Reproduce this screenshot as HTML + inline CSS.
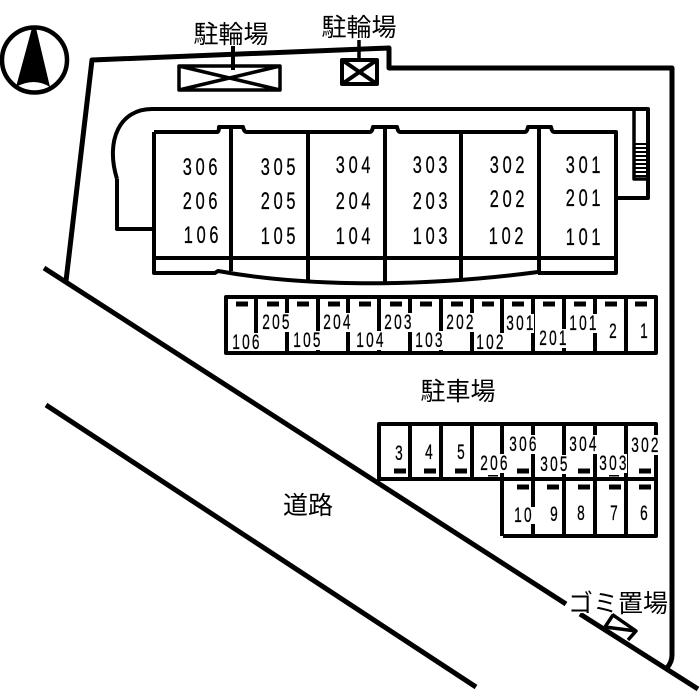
<!DOCTYPE html>
<html lang="ja">
<head>
<meta charset="utf-8">
<title>配置図</title>
<style>
html,body{margin:0;padding:0;background:#fff;width:700px;height:700px;overflow:hidden}
svg{display:block}
text{fill:#000;text-anchor:middle}
.b{font-family:"Liberation Sans",sans-serif;font-size:24px;letter-spacing:5.500px;stroke:#000;stroke-width:.3px}
.p{font-family:"Liberation Sans",sans-serif;font-size:21px;letter-spacing:3.500px;stroke:#000;stroke-width:.3px}
.j{font-family:"Liberation Sans","Noto Sans CJK JP",sans-serif;font-size:25px}
.w{stroke:#fff;stroke-width:3px;paint-order:stroke;stroke-linejoin:round}
</style>
</head>
<body>
<svg width="700" height="700" viewBox="0 0 700 700" xmlns="http://www.w3.org/2000/svg">
<rect width="700" height="700" fill="#fff"/>
<g fill="none" stroke="#000" stroke-linejoin="round">
  <circle cx="34.500" cy="60" r="32.500" stroke-width="4.500"/>
  <path d="M66 281 L92 60 L389 48 L389 68 L672 68 L672 655 Q672 662 667 668" stroke-width="5"/>
  <path d="M44 268 L566 604 M580 614 L698 689" stroke-width="5"/>
  <path d="M46 405 L476 687" stroke-width="5"/>
  <path d="M179 66 H280 V90 H179 Z M179 66 L280 90 M280 66 L179 90" stroke-width="3.500"/>
  <path d="M233 46 V70" stroke-width="4"/>
  <path d="M342 60 H377 V84 H342 Z M342 60 L377 84 M377 60 L342 84" stroke-width="4"/>
  <path d="M359 40 V62" stroke-width="3.500"/>
  <path d="M117 179 C105 140 120 109 152 109 L648 109 V198 H617" stroke-width="4"/>
  <path d="M117 179 V229 H154" stroke-width="4"/>
  <path d="M634 109 V179 H648" stroke-width="3.500"/>
  <path d="M154 132 H217 Q219 132 219 127 H243 Q244 132 247 132 H370 Q372 132 373 127 H397 Q398 132 400 132 H525 Q527 132 528 127 H551 Q552 132 554 132 H616 V273 H538" stroke-width="4"/>
  <path d="M154 132 V273 H215 L218 271 C290 284 400 290 538 272" stroke-width="4"/>
  <path d="M154 258 H616" stroke-width="4"/>
  <path d="M231 127 V271 M308 132 V281 M385 127 V284 M461 132 V279 M539 127 V272" stroke-width="4"/>
  <path d="M256 297 V353 M287 297 V353 M318 297 V353 M348 297 V353 M379 297 V353 M410 297 V353 M441 297 V353 M472 297 V353 M502 297 V353 M533 297 V353 M564 297 V353 M595 297 V353 M626 297 V353" stroke-width="4"/>
  <path d="M410 424 V479 M441 424 V479 M472 424 V479 M502 424 V536 M533 424 V536 M564 424 V536 M595 424 V536 M626 424 V536" stroke-width="4"/>
  <path d="M605 627 L613 615 L636 631 L628 640 M605 627 L636 631" stroke-width="3.500"/>
  <rect x="226" y="297" width="430" height="56" stroke-width="4"/>
  <path d="M379 424 H656 V479 H379 Z" stroke-width="4"/>
  <path d="M503 536 H656 V479" stroke-width="4"/>
</g>
<g fill="#fff">
  <rect x="232" y="333" width="28" height="18"/>
  <rect x="262" y="313" width="28" height="19"/>
  <rect x="293" y="331" width="28" height="19"/>
  <rect x="323" y="313" width="28" height="19"/>
  <rect x="356" y="331" width="28" height="19"/>
  <rect x="384" y="313" width="28" height="19"/>
  <rect x="415" y="331" width="28" height="19"/>
  <rect x="446" y="313" width="28" height="19"/>
  <rect x="476" y="333" width="28" height="18"/>
  <rect x="506" y="314" width="28" height="19"/>
  <rect x="539" y="329" width="28" height="19"/>
  <rect x="569" y="314" width="28" height="19"/>
  <rect x="480" y="454" width="28" height="19"/>
  <rect x="509" y="435" width="28" height="19"/>
  <rect x="540" y="455" width="28" height="19"/>
  <rect x="569" y="435" width="28" height="19"/>
  <rect x="599" y="454" width="28" height="19"/>
  <rect x="631" y="435" width="29" height="20"/>
  <rect x="511" y="507" width="24" height="17"/>
</g>
<path d="M32 28 H36 L50 87 Q34 77 16 87 Z" fill="#000"/>
<g fill="#000">
  <rect x="634" y="143" width="14" height="2"/><rect x="634" y="147" width="14" height="2"/><rect x="634" y="151" width="14" height="2"/><rect x="634" y="155" width="14" height="2"/><rect x="634" y="159" width="14" height="2"/><rect x="634" y="163" width="14" height="2"/><rect x="634" y="167" width="14" height="2"/><rect x="634" y="171" width="14" height="2"/><rect x="634" y="175" width="14" height="2"/>
  <rect x="236" y="301.500" width="12" height="5"/><rect x="267" y="301.500" width="12" height="5"/><rect x="297" y="301.500" width="12" height="5"/><rect x="328" y="301.500" width="12" height="5"/><rect x="359" y="301.500" width="12" height="5"/><rect x="390" y="301.500" width="12" height="5"/><rect x="420" y="301.500" width="12" height="5"/><rect x="451" y="301.500" width="12" height="5"/><rect x="482" y="301.500" width="12" height="5"/><rect x="512" y="301.500" width="12" height="5"/><rect x="543" y="301.500" width="12" height="5"/><rect x="574" y="301.500" width="12" height="5"/><rect x="605" y="301.500" width="12" height="5"/><rect x="635" y="301.500" width="12" height="5"/>
  <rect x="394" y="468.500" width="12" height="5"/><rect x="424" y="468.500" width="12" height="5"/><rect x="455" y="468.500" width="12" height="5"/><rect x="517" y="468.500" width="12" height="5"/><rect x="578" y="468.500" width="12" height="5"/><rect x="639" y="468.500" width="12" height="5"/>
  <rect x="517" y="484.500" width="12" height="5"/><rect x="547" y="484.500" width="12" height="5"/><rect x="578" y="484.500" width="12" height="5"/><rect x="609" y="484.500" width="12" height="5"/><rect x="639" y="484.500" width="12" height="5"/>
</g>
<g class="b">
<text transform="translate(202 175) scale(.68 1)">306</text>
<text transform="translate(202 209) scale(.68 1)">206</text>
<text transform="translate(203 243) scale(.68 1)">106</text>
<text transform="translate(280 175) scale(.68 1)">305</text>
<text transform="translate(280 209) scale(.68 1)">205</text>
<text transform="translate(280 244) scale(.68 1)">105</text>
<text transform="translate(355 173) scale(.68 1)">304</text>
<text transform="translate(355 209) scale(.68 1)">204</text>
<text transform="translate(355 244) scale(.68 1)">104</text>
<text transform="translate(432 173) scale(.68 1)">303</text>
<text transform="translate(432 209) scale(.68 1)">203</text>
<text transform="translate(432 244) scale(.68 1)">103</text>
<text transform="translate(509 173) scale(.68 1)">302</text>
<text transform="translate(509 207) scale(.68 1)">202</text>
<text transform="translate(508 244) scale(.68 1)">102</text>
<text transform="translate(585 173) scale(.68 1)">301</text>
<text transform="translate(585 206) scale(.68 1)">201</text>
<text transform="translate(585 245) scale(.68 1)">101</text>
</g>
<g class="p">
<text transform="translate(247 349) scale(.65 1)">106</text>
<text transform="translate(277 329) scale(.65 1)">205</text>
<text transform="translate(308 347) scale(.65 1)">105</text>
<text transform="translate(338 329) scale(.65 1)">204</text>
<text transform="translate(371 347) scale(.65 1)">104</text>
<text transform="translate(399 329) scale(.65 1)">203</text>
<text transform="translate(430 347) scale(.65 1)">103</text>
<text transform="translate(461 329) scale(.65 1)">202</text>
<text transform="translate(491 349) scale(.65 1)">102</text>
<text transform="translate(521 330) scale(.65 1)">301</text>
<text transform="translate(554 345) scale(.65 1)">201</text>
<text transform="translate(584 330) scale(.65 1)">101</text>
<text transform="translate(614 338) scale(.65 1)">2</text>
<text transform="translate(645 338) scale(.65 1)">1</text>
<text transform="translate(400 460) scale(.65 1)">3</text>
<text transform="translate(430 459) scale(.65 1)">4</text>
<text transform="translate(462 459) scale(.65 1)">5</text>
<text transform="translate(495 470) scale(.65 1)">206</text>
<text transform="translate(524 451) scale(.65 1)">306</text>
<text transform="translate(555 471) scale(.65 1)">305</text>
<text transform="translate(584 451) scale(.65 1)">304</text>
<text transform="translate(614 470) scale(.65 1)">303</text>
<text transform="translate(646 452) scale(.65 1)">302</text>
<text transform="translate(524 522) scale(.65 1)">10</text>
<text transform="translate(555 521) scale(.65 1)">9</text>
<text transform="translate(582 520) scale(.65 1)">8</text>
<text transform="translate(615 520) scale(.65 1)">7</text>
<text transform="translate(645 520) scale(.65 1)">6</text>
</g>
<rect x="488" y="475" width="10" height="1.500" fill="#000"/>
<rect x="609" y="475" width="10" height="1.500" fill="#000"/>
<g class="j">
<text x="231" y="43">駐輪場</text>
<text x="359" y="36">駐輪場</text>
<text x="458" y="400">駐車場</text>
<text x="308" y="514">道路</text>
<text x="618" y="612" class="w">ゴミ置場</text>
</g>
</svg>
</body>
</html>
